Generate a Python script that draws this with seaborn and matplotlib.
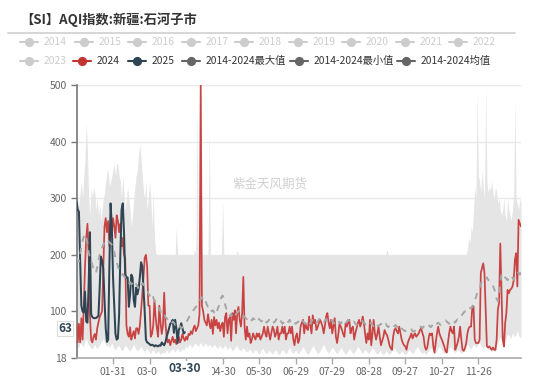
import numpy as np
import pandas as pd
import matplotlib
matplotlib.use("Agg")
import matplotlib.pyplot as plt
from matplotlib.lines import Line2D
from matplotlib.patches import Rectangle
import seaborn as sns

# ---------------- data ----------------
title = "【SI】AQI指数:新疆:石河子市"
watermark = "紫金天风期货"
legend_light = ["2014", "2015", "2016", "2017", "2018", "2019", "2020", "2021", "2022", "2023"]
label_2024 = "2024"
label_2025 = "2025"
label_max = "2014-2024最大值"
label_min = "2014-2024最小值"
label_mean = "2014-2024均值"

dates = pd.date_range("2024-01-01", "2024-12-31").strftime("%m-%d").tolist()
x_tick_labels = ["01-31", "03-01", "03-31", "04-30", "05-30", "06-29", "07-29",
                 "08-28", "09-27", "10-27", "11-26"]
y_ticks = [18, 100, 200, 300, 400, 500]
pointer_date = "03-30"
pointer_value = 63

aqi_2024 = [
    80, 45, 78, 45, 88, 50, 110, 180, 230, 255,
    200, 95, 50, 45, 55, 60, 50, 70, 80, 90,
    95, 100, 175, 250, 265, 240, 260, 215, 255, 240,
    265, 250, 230, 270, 260, 240, 255, 215, 230, 200,
    195, 75, 60, 55, 72, 50, 58, 65, 52, 70,
    70, 60, 75, 100, 130, 160, 195, 200, 180, 110,
    110, 55, 60, 75, 120, 90, 70, 55, 110, 80,
    60, 75, 133, 80, 55, 45, 50, 40, 48, 55,
    45, 50, 42, 48, 55, 45, 50, 60, 52, 48,
    55, 50, 60, 58, 65, 60, 70, 75, 65, 70,
    75, 95, 500, 110, 100, 85, 80, 75, 95, 80,
    70, 85, 60, 90, 75, 85, 70, 80, 65, 75,
    80, 55, 90, 97, 61, 85, 90, 48, 97, 85,
    102, 61, 97, 108, 85, 73, 97, 161, 73, 50,
    73, 55, 61, 44, 50, 61, 55, 50, 61, 55,
    61, 50, 55, 61, 73, 61, 55, 73, 62, 50,
    61, 73, 68, 55, 61, 73, 50, 61, 61, 73,
    61, 73, 50, 61, 61, 73, 61, 73, 50, 40,
    55, 61, 44, 50, 73, 80, 85, 61, 79, 70,
    67, 91, 75, 61, 93, 79, 85, 67, 72, 79,
    85, 80, 73, 61, 75, 91, 97, 80, 70, 85,
    61, 75, 88, 55, 44, 60, 79, 73, 67, 60,
    55, 79, 73, 80, 85, 61, 70, 73, 50, 61,
    70, 79, 85, 73, 80, 91, 79, 60, 44, 61,
    50, 85, 40, 60, 85, 61, 50, 60, 73, 55,
    40, 48, 55, 67, 61, 58, 50, 40, 35, 32,
    55, 67, 70, 65, 61, 73, 62, 50, 44, 40,
    38, 32, 44, 50, 55, 61, 52, 58, 61, 55,
    58, 61, 67, 70, 62, 55, 38, 32, 36, 50,
    61, 58, 61, 38, 27, 45, 61, 73, 61, 55,
    50, 44, 38, 30, 27, 44, 61, 73, 65, 61,
    73, 32, 38, 45, 55, 73, 50, 32, 30, 35,
    44, 61, 70, 73, 73, 109, 109, 50, 44, 44,
    44, 50, 168, 177, 185, 168, 103, 38, 36, 38,
    35, 32, 36, 32, 32, 50, 103, 115, 220, 138,
    50, 38, 79, 97, 138, 132, 138, 140, 144, 155,
    191, 203, 144, 262, 256, 250,
]

aqi_2025 = [
    294, 280, 276, 190, 110, 100, 98, 135, 82, 80,
    150, 240, 95, 90, 88, 88, 88, 90, 92, 140,
    197, 190, 175, 120, 70, 46, 50, 180, 291, 250,
    160, 110, 60, 50, 52, 95, 200, 280, 291, 240,
    165, 160, 160, 108, 130, 165, 160, 120, 108, 142,
    130, 140, 160, 187, 180, 140, 100, 50, 45, 44,
    42, 40, 41, 40, 38, 40, 39, 38, 40, 39,
    45, 42, 40, 45, 55, 62, 70, 78, 80, 85,
    62, 85, 70, 44, 67, 72, 79, 70, 61, 63,
]

aqi_mean = [
    195, 190, 188, 200, 215, 225, 232, 237, 230, 220,
    205, 195, 190, 182, 175, 170, 168, 178, 190, 200,
    205, 212, 218, 222, 225, 228, 225, 222, 220, 218,
    215, 205, 195, 188, 180, 172, 168, 165, 166, 162,
    160, 158, 155, 150, 152, 148, 150, 155, 152, 148,
    145, 140, 138, 145, 150, 148, 142, 140, 138, 132,
    128, 125, 130, 125, 118, 112, 110, 108, 105, 100,
    96, 92, 95, 90, 88, 85, 82, 80, 78, 82,
    80, 76, 78, 75, 72, 74, 70, 72, 75, 78,
    80, 84, 88, 92, 95, 98, 102, 105, 108, 110,
    112, 118, 122, 125, 120, 115, 118, 112, 108, 110,
    105, 100, 102, 98, 100, 96, 105, 110, 118, 125,
    128, 120, 112, 105, 98, 95, 92, 96, 90, 88,
    92, 95, 98, 100, 102, 98, 95, 92, 90, 88,
    86, 88, 90, 85, 84, 88, 86, 82, 85, 88,
    86, 84, 82, 85, 88, 84, 80, 82, 85, 84,
    82, 85, 80, 82, 86, 83, 80, 84, 82, 78,
    80, 84, 82, 79, 82, 85, 80, 78, 82, 80,
    78, 80, 82, 79, 76, 80, 83, 80, 78, 82,
    84, 80, 78, 82, 86, 88, 84, 80, 82, 85,
    88, 85, 82, 80, 84, 86, 82, 80, 78, 82,
    84, 80, 78, 76, 80, 83, 80, 78, 82, 84,
    80, 78, 82, 85, 82, 80, 78, 80, 82, 78,
    76, 78, 80, 82, 85, 82, 80, 78, 75, 78,
    76, 78, 80, 76, 74, 78, 80, 76, 74, 76,
    78, 75, 73, 76, 78, 74, 72, 75, 77, 74,
    72, 74, 76, 73, 70, 72, 74, 70, 68, 66,
    65, 67, 66, 64, 66, 68, 65, 64, 66, 68,
    70, 72, 74, 72, 70, 73, 75, 72, 74, 76,
    74, 72, 75, 78, 76, 74, 78, 80, 78, 76,
    78, 80, 82, 84, 82, 80, 78, 82, 85, 84,
    82, 80, 84, 86, 85, 88, 92, 95, 98, 100,
    98, 102, 104, 106, 105, 108, 112, 118, 125, 132,
    135, 140, 148, 155, 158, 160, 158, 160, 156, 154,
    150, 148, 145, 140, 130, 122, 118, 125, 150, 165,
    168, 164, 160, 158, 155, 160, 162, 158, 160, 156,
    162, 166, 170, 168, 165, 170,
]

aqi_max = [
    290, 300, 285, 310, 330, 300, 340, 370, 434, 380,
    300, 270, 320, 300, 320, 310, 280, 300, 270, 290,
    260, 280, 300, 310, 330, 345, 350, 320, 330, 340,
    350, 360, 340, 362, 360, 340, 330, 300, 340, 310,
    280, 300, 320, 300, 280, 250, 270, 300, 320, 340,
    350, 380, 395, 370, 340, 310, 300, 330, 280, 300,
    330, 300, 250, 315, 230, 205, 200, 200, 200, 200,
    200, 200, 200, 200, 200, 200, 200, 200, 200, 200,
    200, 200, 250, 200, 200, 200, 200, 200, 200, 200,
    200, 200, 200, 200, 200, 200, 200, 210, 200, 450,
    200, 200, 500, 200, 200, 200, 200, 200, 200, 426,
    200, 200, 200, 200, 200, 200, 200, 200, 200, 200,
    297, 200, 200, 200, 200, 200, 200, 200, 200, 200,
    200, 200, 208, 200, 200, 200, 200, 200, 200, 200,
    200, 200, 200, 200, 200, 200, 200, 200, 200, 200,
    200, 200, 200, 200, 200, 200, 200, 200, 200, 200,
    200, 200, 200, 200, 200, 200, 200, 200, 200, 200,
    200, 200, 200, 200, 200, 200, 200, 200, 200, 200,
    200, 200, 200, 200, 200, 200, 200, 200, 200, 200,
    200, 200, 200, 200, 200, 200, 200, 200, 200, 200,
    200, 200, 200, 200, 200, 200, 200, 200, 200, 200,
    200, 200, 200, 200, 200, 200, 200, 200, 200, 200,
    200, 200, 200, 200, 200, 200, 200, 200, 200, 200,
    200, 200, 200, 200, 200, 200, 200, 200, 200, 200,
    200, 200, 200, 200, 200, 200, 200, 200, 200, 200,
    200, 200, 200, 200, 200, 210, 200, 200, 200, 200,
    200, 200, 200, 200, 200, 200, 200, 200, 200, 200,
    200, 200, 200, 200, 200, 200, 200, 200, 200, 200,
    200, 200, 200, 200, 200, 200, 200, 200, 200, 200,
    200, 200, 200, 200, 200, 200, 200, 200, 200, 200,
    200, 200, 200, 200, 200, 200, 200, 200, 200, 200,
    200, 200, 200, 200, 200, 200, 200, 200, 200, 200,
    200, 210, 230, 220, 250, 240, 280, 320, 300, 490,
    340, 330, 310, 350, 320, 300, 495, 330, 310, 320,
    315, 330, 310, 300, 320, 310, 290, 300, 280, 270,
    280, 300, 270, 260, 300, 280, 270, 260, 280, 310,
    475, 300, 290, 280, 300, 290,
]

aqi_min = [
    40, 35, 38, 45, 42, 38, 40, 48, 52, 45,
    40, 38, 35, 33, 38, 42, 36, 34, 38, 40,
    45, 48, 52, 46, 40, 38, 42, 36, 40, 44,
    38, 34, 32, 36, 40, 38, 35, 30, 32, 36,
    40, 38, 35, 32, 30, 34, 38, 42, 36, 33,
    30, 32, 35, 38, 34, 30, 28, 32, 35, 30,
    28, 26, 30, 33, 28, 25, 28, 30, 26, 24,
    26, 28, 25, 30, 32, 28, 26, 30, 32, 34,
    30, 28, 32, 35, 30, 28, 32, 34, 30, 36,
    38, 35, 40, 42, 38, 36, 40, 44, 42, 40,
    38, 42, 45, 40, 38, 42, 44, 40, 38, 42,
    40, 36, 38, 42, 40, 36, 34, 38, 40, 36,
    34, 38, 40, 36, 32, 35, 38, 34, 30, 33,
    36, 40, 38, 34, 32, 30, 34, 36, 32, 30,
    28, 30, 34, 32, 28, 26, 30, 33, 30, 27,
    25, 28, 32, 35, 30, 27, 25, 28, 31, 29,
    26, 24, 28, 32, 30, 26, 23, 25, 29, 32,
    30, 27, 25, 28, 33, 36, 31, 28, 26, 29,
    32, 28, 25, 27, 30, 34, 38, 33, 29, 26,
    24, 27, 31, 35, 40, 36, 32, 28, 25, 27,
    30, 34, 38, 42, 36, 31, 28, 26, 29, 33,
    37, 34, 30, 27, 25, 28, 32, 36, 33, 29,
    26, 24, 27, 31, 35, 32, 28, 25, 27, 30,
    34, 38, 35, 31, 28, 26, 29, 33, 30, 27,
    25, 28, 32, 36, 33, 29, 26, 24, 27, 31,
    28, 25, 23, 26, 30, 28, 25, 24, 27, 29,
    32, 35, 31, 28, 26, 24, 27, 30, 28, 25,
    23, 26, 29, 33, 30, 27, 25, 28, 32, 35,
    38, 34, 30, 27, 25, 28, 26, 24, 27, 30,
    33, 36, 32, 28, 25, 27, 31, 35, 38, 34,
    30, 27, 25, 28, 26, 30, 34, 38, 35, 32,
    29, 27, 30, 33, 31, 28, 26, 29, 28, 35,
    38, 42, 40, 36, 33, 38, 42, 40, 36, 39,
    42, 45, 40, 36, 34, 38, 42, 35, 33, 32,
    30, 28, 32, 30, 28, 40, 45, 50, 55, 48,
    42, 35, 45, 55, 60, 58, 52, 55, 62, 58,
    55, 60, 65, 58, 55, 52,
]

# ---------------- style ----------------
W, H = 550, 378
sns.set_theme(style="white")
plt.rcParams["font.family"] = ["Noto Sans CJK SC", "DejaVu Sans"]

C_RED = "#c94343"
C_NAVY = "#2f4554"
C_DARK = "#666666"
C_LIGHT = "#cccccc"
C_FILL = "#e5e5e5"
C_MEAN = "#a6a6a6"


def fx(px):
    return px / W


def fy(py):
    return 1 - py / H


fig = plt.figure(figsize=(W / 100, H / 100), dpi=100)
fig.patch.set_facecolor("white")
ax = fig.add_axes([fx(76.5), fy(357.7), fx(521) - fx(76.5), fy(85.3) - fy(357.7)])
ax.set_facecolor("white")

days = np.arange(len(dates))
days_2025 = np.arange(len(aqi_2025))

ax.fill_between(days, aqi_min, aqi_max, color=C_FILL, linewidth=0, zorder=1)
sns.lineplot(x=days, y=aqi_2024, ax=ax, color=C_RED, linewidth=1.25, zorder=3)
sns.lineplot(x=days_2025, y=aqi_2025, ax=ax, color=C_NAVY, linewidth=1.45, zorder=4)
sns.lineplot(x=days, y=aqi_mean, ax=ax, color=C_MEAN, linewidth=1.4, zorder=5)
ax.lines[-1].set_dashes([3.2, 3.2])

ax.set_xlim(0, len(dates) - 1)
ax.set_ylim(18, 500)
ax.set_yticks(y_ticks)
ax.set_yticklabels([str(v) for v in y_ticks])
for v in y_ticks[1:]:
    ax.axhline(v, color="#e9e9e9", linewidth=1, zorder=0.5)

# x ticks; the label under the axis-pointer label is hidden by it in the reference
pi = dates.index(pointer_date)
tick_pos = [dates.index(lbl) for lbl in x_tick_labels]
shown_labels = [lbl if abs(p - pi) > 3 else "" for p, lbl in zip(tick_pos, x_tick_labels)]
ax.set_xticks(tick_pos)
ax.set_xticklabels(shown_labels)

for side in ["top", "right"]:
    ax.spines[side].set_visible(False)
ax.spines["left"].set_color("#777777")
ax.spines["left"].set_linewidth(1.2)
ax.spines["bottom"].set_color("#aaaaaa")
ax.spines["bottom"].set_linewidth(1.2)
ax.tick_params(axis="y", length=4, width=1, color="#777777", pad=3,
               labelsize=7.5, labelcolor="#666666", left=True)
ax.tick_params(axis="x", length=4, width=1, color="#aaaaaa", pad=3,
               labelsize=7.5, labelcolor="#666666", bottom=True)
ax.set_xlabel("")
ax.set_ylabel("")
ax.grid(False)

# watermark
ax.text(0.435, 0.635, watermark, transform=ax.transAxes, fontsize=9,
        color="#d0d0d0", ha="center", va="center", zorder=0.6)

# title + separator
fig.text(fx(20), fy(20), title, fontsize=9.5, fontweight="bold", color="#333333",
         ha="left", va="center")
fig.add_artist(Line2D([fx(8), fx(515)], [fy(32.5), fy(32.5)], color="#d0d0d0",
                      linewidth=1.2, transform=fig.transFigure))

# legend
row1 = [(29, "2014"), (84, "2015"), (137, "2016"), (191, "2017"), (244, "2018"),
        (298, "2019"), (351, "2020"), (405, "2021"), (458, "2022")]
row2 = [(29, legend_light[9], C_LIGHT, C_LIGHT),
        (82, label_2024, "#c23531", "#333333"),
        (137, label_2025, C_NAVY, "#333333"),
        (191, label_max, C_DARK, "#333333"),
        (299, label_min, C_DARK, "#333333"),
        (406, label_mean, C_DARK, "#333333")]
items = [(mx, lbl, C_LIGHT, C_LIGHT, 42) for mx, lbl in row1]
items += [(mx, lbl, mc, tc, 61) for mx, lbl, mc, tc in row2]
for mx, lbl, mc, tc, py in items:
    fig.add_artist(Line2D([fx(mx - 9), fx(mx + 9)], [fy(py), fy(py)], color=mc,
                          linewidth=1.5, transform=fig.transFigure))
    fig.add_artist(Line2D([fx(mx)], [fy(py)], marker="o", markersize=5.6,
                          color=mc, markeredgecolor=mc, linestyle="none",
                          transform=fig.transFigure))
    fig.text(fx(mx + 15), fy(py), lbl, fontsize=7.4, color=tc, ha="left", va="center")

# axis pointer labels
x_ptr = 76.5 + pi * (521 - 76.5) / (len(dates) - 1)
fig.add_artist(Rectangle((fx(x_ptr - 27), fy(376)), fx(54), fy(361) - fy(376),
                         facecolor="white", edgecolor="none",
                         transform=fig.transFigure, zorder=5))
fig.text(fx(x_ptr), fy(368.5), pointer_date, fontsize=8.6, fontweight="bold",
         color=C_NAVY, ha="center", va="center", zorder=6)

y_ptr = 357.7 - (pointer_value - 18) / (500 - 18) * (357.7 - 85.3)
fig.add_artist(Rectangle((fx(57), fy(y_ptr + 4)), fx(16), fy(y_ptr - 11) - fy(y_ptr + 4),
                         facecolor="white", edgecolor="#dddddd", linewidth=0.8,
                         transform=fig.transFigure, zorder=5))
fig.text(fx(65), fy(y_ptr - 3.5), str(pointer_value), fontsize=8.4, fontweight="bold",
         color=C_NAVY, ha="center", va="center", zorder=6)

fig.savefig("out.png", dpi=100, facecolor="white")
